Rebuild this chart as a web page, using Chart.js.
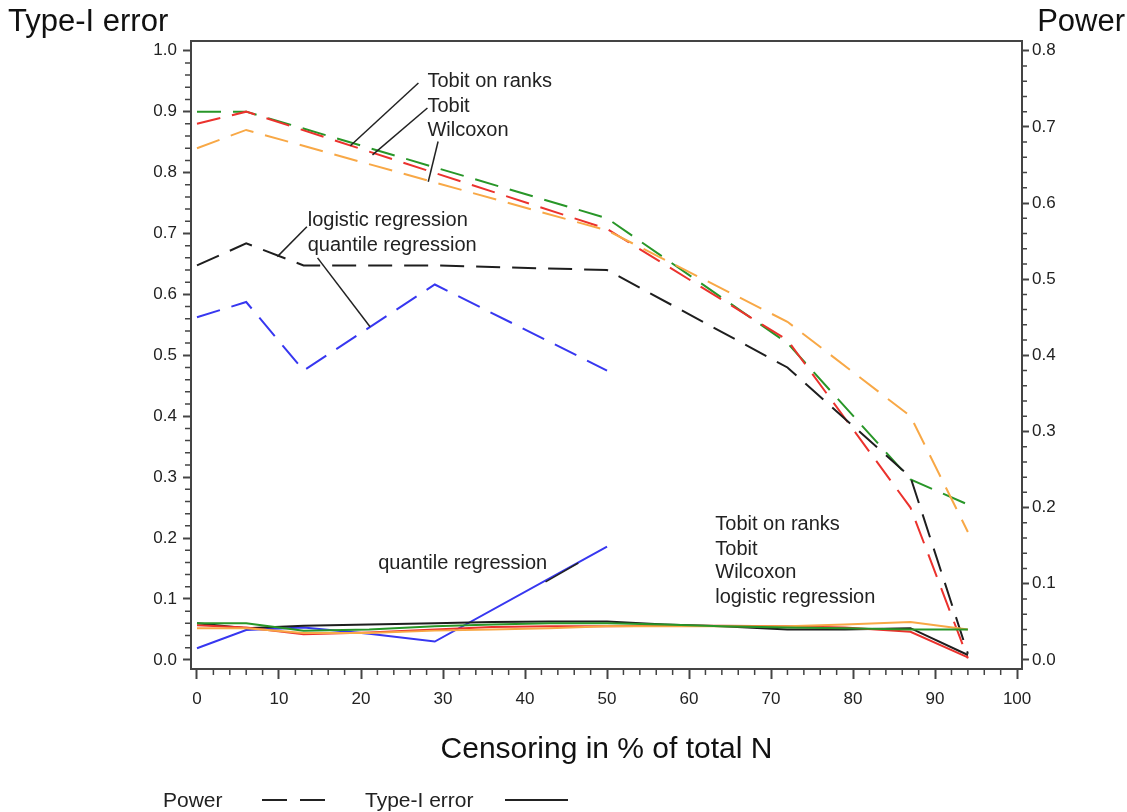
<!DOCTYPE html>
<html>
<head>
<meta charset="utf-8">
<script src="https://cdn.jsdelivr.net/npm/chart.js@4/dist/chart.umd.min.js"></script>
<style>
  html, body { margin: 0; padding: 0; background: #fff; }
  canvas { display: block; }
</style>
</head>
<body>
<canvas id="myChart" width="1127" height="812"></canvas>
<script>
// censoring in % of total N
const censoring = [0, 6, 13, 21, 29, 36, 43, 50, 57, 64, 72, 79, 87, 94];

// power, right axis (null = no vertex there)
const powerTobitRanks = [0.72, 0.72, null, null, null, null, null, 0.58, null, null, 0.416, null, 0.237, 0.204];
const powerTobit = [0.704, 0.72, null, null, null, null, null, 0.566, null, null, 0.42, null, 0.2, 0.002];
const powerWilcoxon = [0.672, 0.696, null, null, null, null, null, 0.564, null, null, 0.444, null, 0.32, 0.168];
const powerLogistic = [0.518, 0.547, 0.518, null, 0.518, null, null, 0.512, null, null, 0.384, null, 0.24, 0.008];
const powerQuantile = [0.45, 0.47, 0.38, null, 0.493, null, null, 0.38, null, null, null, null, null, null];

// type-I error, left axis
const typeITobitRanks = [0.060, 0.060, 0.048, 0.050, 0.055, 0.058, 0.060, 0.060, 0.058, 0.055, 0.053, 0.052, 0.050, 0.050];
const typeITobit = [0.057, 0.053, 0.042, 0.045, 0.050, 0.054, 0.055, 0.055, 0.056, 0.056, 0.055, 0.053, 0.046, 0.004];
const typeIWilcoxon = [0.052, 0.052, 0.044, 0.044, 0.048, 0.050, 0.052, 0.055, 0.055, 0.055, 0.055, 0.058, 0.062, 0.050];
const typeILogistic = [0.060, 0.052, 0.056, 0.058, 0.060, 0.062, 0.063, 0.063, 0.058, 0.055, 0.050, 0.050, 0.052, 0.008];
const typeIQuantile = [0.019, 0.049, 0.053, 0.043, 0.030, null, null, 0.186, null, null, null, null, null, null];

const xTicks = [0, 10, 20, 30, 40, 50, 60, 70, 80, 90, 100];
const yTicks = [0, 0.1, 0.2, 0.3, 0.4, 0.5, 0.6, 0.7, 0.8, 0.9, 1.0];
const y1Ticks = [0, 0.1, 0.2, 0.3, 0.4, 0.5, 0.6, 0.7, 0.8];

// labels in the plot: [text, x, type-I value]
const labelTexts = ["Tobit on ranks", "Tobit", "Wilcoxon", "logistic regression", "quantile regression",
  "quantile regression", "Tobit on ranks", "Tobit", "Wilcoxon", "logistic regression"];
const labelX = [28.1, 28.1, 28.1, 13.5, 13.5, 22.1, 63.2, 63.2, 63.2, 63.2];
const labelY = [0.949, 0.908, 0.869, 0.721, 0.681, 0.159, 0.222, 0.182, 0.143, 0.103];

// leader lines: [x1, y1, x2, y2] in data units (left axis)
const leaders = [
  [27.0, 0.947, 18.7, 0.844],
  [28.1, 0.906, 21.4, 0.829],
  [29.4, 0.851, 28.2, 0.785],
  [13.4, 0.711, 9.8, 0.662],
  [14.7, 0.660, 21.1, 0.547],
  [42.5, 0.128, 46.5, 0.159],
];

const GREEN = "rgb(40,150,40)";
const RED = "rgb(235,50,45)";
const ORANGE = "rgb(248,168,70)";
const BLACK = "rgb(30,30,30)";
const BLUE = "rgb(55,55,240)";
const FONT = "'Liberation Sans', Arial, sans-serif";

function pts(arr) {
  return censoring.map((x, i) => ({ x: x, y: arr[i] }));
}

function powerSet(label, arr, color) {
  return {
    label: label, data: pts(arr), yAxisID: "y1",
    borderColor: color, borderWidth: 2, borderDash: [24, 12],
    pointRadius: 0, spanGaps: true, tension: 0, fill: false,
  };
}
function typeISet(label, arr, color) {
  return {
    label: label, data: pts(arr), yAxisID: "y",
    borderColor: color, borderWidth: 2,
    pointRadius: 0, spanGaps: true, tension: 0, fill: false,
  };
}

const decorPlugin = {
  id: "decor",
  afterDraw(chart) {
    const ctx = chart.ctx;
    const a = chart.chartArea;
    const sx = chart.scales.x, sy = chart.scales.y, sy1 = chart.scales.y1;
    ctx.save();

    // frame
    ctx.strokeStyle = "#444";
    ctx.lineWidth = 2;
    ctx.strokeRect(a.left, a.top, a.right - a.left, a.bottom - a.top);

    // minor ticks
    ctx.lineWidth = 1.5;
    ctx.beginPath();
    for (let v = 2; v < 100; v += 2) {
      if (v % 10 === 0) continue;
      const px = sx.getPixelForValue(v);
      ctx.moveTo(px, a.bottom);
      ctx.lineTo(px, a.bottom + 6);
    }
    for (let k = 1; k < 50; k++) {
      if (k % 5 === 0) continue;
      const py = sy.getPixelForValue(k * 0.02);
      ctx.moveTo(a.left, py);
      ctx.lineTo(a.left - 6, py);
    }
    for (let k = 1; k < 40; k++) {
      if (k % 5 === 0) continue;
      const py = sy1.getPixelForValue(k * 0.02);
      ctx.moveTo(a.right, py);
      ctx.lineTo(a.right + 5, py);
    }
    ctx.stroke();

    // leader lines
    ctx.strokeStyle = "#222";
    ctx.lineWidth = 1.5;
    leaders.forEach(l => {
      ctx.beginPath();
      ctx.moveTo(sx.getPixelForValue(l[0]), sy.getPixelForValue(l[1]));
      ctx.lineTo(sx.getPixelForValue(l[2]), sy.getPixelForValue(l[3]));
      ctx.stroke();
    });

    // plot labels
    ctx.fillStyle = "#222";
    ctx.font = "20px " + FONT;
    ctx.textAlign = "left";
    ctx.textBaseline = "middle";
    labelTexts.forEach((t, i) => {
      ctx.fillText(t, sx.getPixelForValue(labelX[i]), sy.getPixelForValue(labelY[i]));
    });

    // axis titles
    ctx.fillStyle = "#111";
    ctx.font = "31px " + FONT;
    ctx.textBaseline = "middle";
    ctx.textAlign = "left";
    ctx.fillText("Type-I error", 8, 22);
    ctx.textAlign = "right";
    ctx.fillText("Power", 1125, 22);
    ctx.font = "30px " + FONT;
    ctx.textAlign = "center";
    ctx.fillText("Censoring in % of total N", (a.left + a.right) / 2, 750);

    // legend
    ctx.font = "21px " + FONT;
    ctx.textAlign = "left";
    ctx.fillStyle = "#222";
    ctx.fillText("Power", 163, 801);
    ctx.fillText("Type-I error", 365, 801);
    ctx.strokeStyle = "#222";
    ctx.lineWidth = 2;
    ctx.beginPath();
    ctx.moveTo(262, 800); ctx.lineTo(287, 800);
    ctx.moveTo(300, 800); ctx.lineTo(325, 800);
    ctx.moveTo(505, 800); ctx.lineTo(568, 800);
    ctx.stroke();

    ctx.restore();
  },
};

const tickFont = { family: FONT, size: 17 };

new Chart(document.getElementById("myChart"), {
  type: "line",
  data: {
    datasets: [
      typeISet("Type-I Tobit on ranks", typeITobitRanks, GREEN),
      typeISet("Type-I Wilcoxon", typeIWilcoxon, ORANGE),
      typeISet("Type-I Tobit", typeITobit, RED),
      typeISet("Type-I logistic regression", typeILogistic, BLACK),
      typeISet("Type-I quantile regression", typeIQuantile, BLUE),
      powerSet("Power logistic regression", powerLogistic, BLACK),
      powerSet("Power quantile regression", powerQuantile, BLUE),
      powerSet("Power Wilcoxon", powerWilcoxon, ORANGE),
      powerSet("Power Tobit", powerTobit, RED),
      powerSet("Power Tobit on ranks", powerTobitRanks, GREEN),
    ],
  },
  options: {
    responsive: false,
    animation: false,
    devicePixelRatio: 1,
    layout: { padding: { top: 41, left: 0, right: 0, bottom: 0 } },
    plugins: { legend: { display: false }, tooltip: { enabled: false } },
    scales: {
      x: {
        type: "linear", min: -0.73, max: 100.6,
        afterBuildTicks: s => { s.ticks = xTicks.map(v => ({ value: v })); },
        afterFit: s => { s.height = 143; },
        ticks: { font: tickFont, color: "#222", padding: 10, maxRotation: 0, autoSkip: false },
        grid: { drawOnChartArea: false, drawTicks: true, tickLength: 10, tickColor: "#444", tickWidth: 2 },
        border: { display: true, color: "#444", width: 2 },
      },
      y: {
        position: "left", min: -0.015, max: 1.016,
        afterBuildTicks: s => { s.ticks = yTicks.map(v => ({ value: v })); },
        afterFit: s => { s.width = 191; },
        ticks: { font: tickFont, color: "#222", padding: 6, callback: v => v.toFixed(1), autoSkip: false },
        grid: { drawOnChartArea: false, drawTicks: true, tickLength: 8, tickColor: "#444", tickWidth: 2 },
        border: { display: true, color: "#444", width: 2 },
      },
      y1: {
        position: "right", min: -0.012, max: 0.8128,
        afterBuildTicks: s => { s.ticks = y1Ticks.map(v => ({ value: v })); },
        afterFit: s => { s.width = 105; },
        ticks: { font: tickFont, color: "#222", padding: 3, callback: v => v.toFixed(1), autoSkip: false },
        grid: { drawOnChartArea: false, drawTicks: true, tickLength: 7, tickColor: "#444", tickWidth: 2 },
        border: { display: true, color: "#444", width: 2 },
      },
    },
  },
  plugins: [decorPlugin],
});
</script>
</body>
</html>
